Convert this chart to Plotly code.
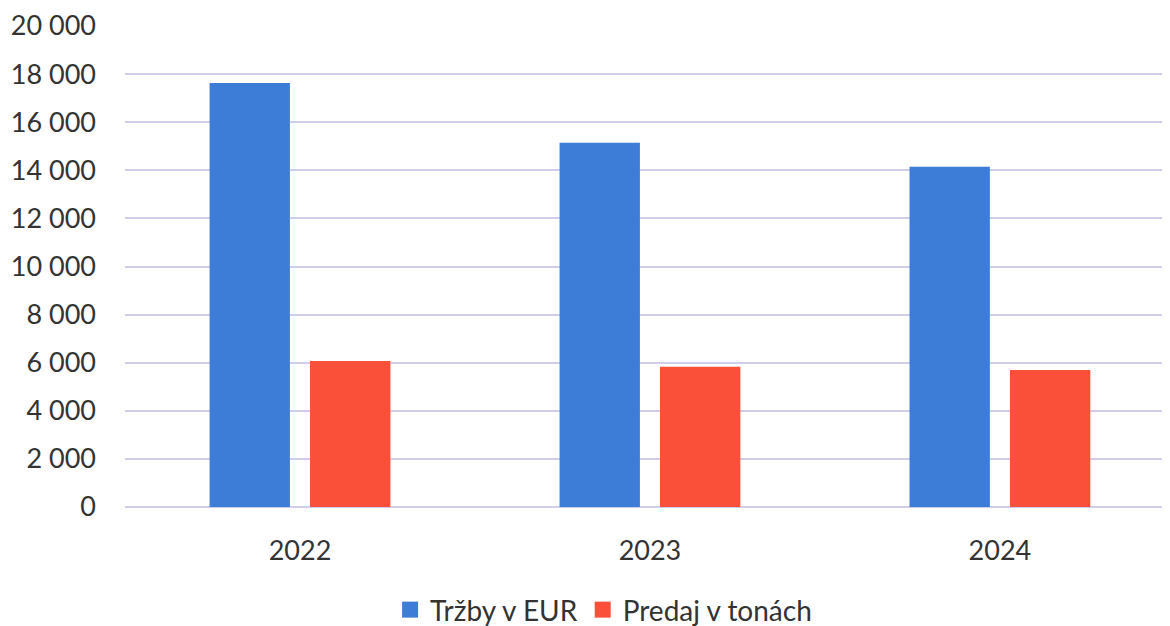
import plotly.graph_objects as go

years = ["2022", "2023", "2024"]
trzby = [17630, 15150, 14150]
predaj = [6070, 5830, 5700]
series_names = ["Tržby v EUR", "Predaj v tonách"]
series_colors = ["#3d7dd8", "#fa4f38"]
y_ticks = [0, 2000, 4000, 6000, 8000, 10000, 12000, 14000, 16000, 18000, 20000]
y_tick_labels = ["0", "2 000", "4 000", "6 000", "8 000", "10 000", "12 000", "14 000", "16 000", "18 000", "20 000"]

fig = go.Figure()
fig.add_trace(go.Bar(x=years, y=trzby, name=series_names[0], showlegend=False,
                     marker=dict(color=series_colors[0], line=dict(width=0))))
fig.add_trace(go.Bar(x=years, y=predaj, name=series_names[1], showlegend=False,
                     marker=dict(color=series_colors[1], line=dict(width=0))))
# legend entries with larger square swatches
for name, color in zip(series_names, series_colors):
    fig.add_trace(go.Scatter(x=[None], y=[None], mode="markers", name=name,
                             marker=dict(symbol="square", size=16, color=color),
                             hoverinfo="skip"))

fig.update_layout(
    width=1162, height=618,
    margin=dict(l=117, r=0, t=18, b=119, autoexpand=False),
    paper_bgcolor="white", plot_bgcolor="white",
    barmode="group", bargap=0.426, bargroupgap=0.2,
    font=dict(family="Lato, Open Sans, sans-serif", color="#333333"),
    xaxis=dict(type="category", range=[-0.5, 2.486], showgrid=False, zeroline=False,
               showline=False, ticks="", tickfont=dict(size=27, color="#333333"),
               ticklabelstandoff=25, automargin=False),
    yaxis=dict(range=[0, 20000], tickvals=y_ticks, ticktext=y_tick_labels,
               showgrid=True, gridcolor="#cfcdea", gridwidth=1.5,
               zeroline=True, zerolinecolor="#cfcdea", zerolinewidth=1.5,
               showline=False, ticks="", tickfont=dict(size=27, color="#333333"),
               ticklabelstandoff=28, automargin=False),
    legend=dict(orientation="h", x=0.458, xanchor="center", y=-0.214, yanchor="middle",
                font=dict(size=28, color="#333333"), itemwidth=30, traceorder="normal"),
)

fig.write_html("out.html")
